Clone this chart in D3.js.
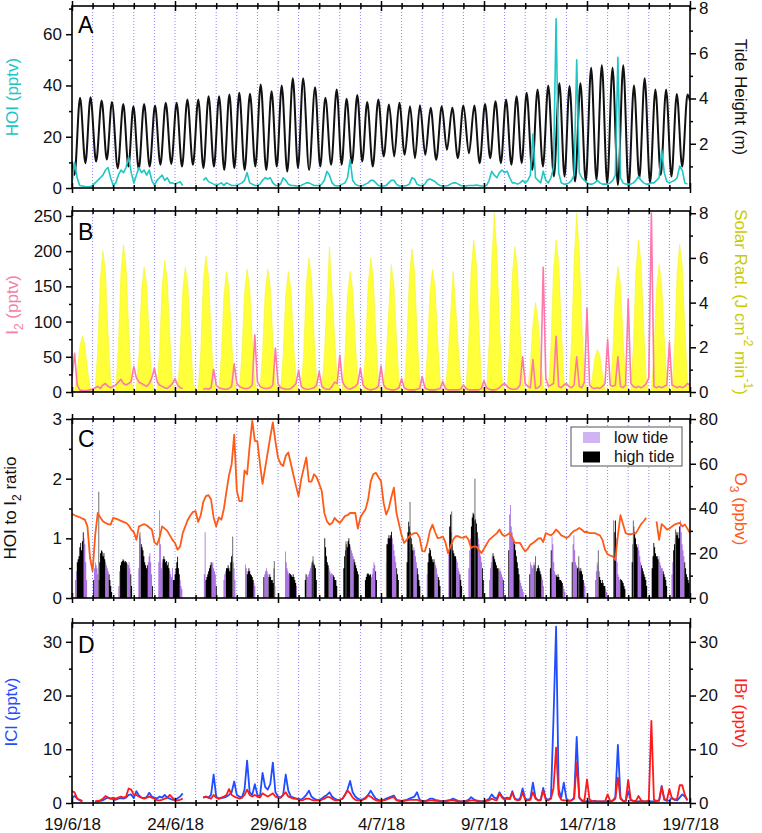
<!DOCTYPE html>
<html><head><meta charset="utf-8">
<script src="https://cdn.jsdelivr.net/npm/d3@7"></script>
<style>body{margin:0;background:#fff}svg{display:block}</style>
</head><body>
<svg id="chart" width="762" height="833"></svg>
<script>
// ---------------- DATA ----------------
const dateTickLabels = ["19/6/18","24/6/18","29/6/18","4/7/18","9/7/18","14/7/18","19/7/18"];
const STEP = 0.125; // days between samples (3 h), day 0 = 19/6/18 00:00

const tideHighTimes = [0.39,0.90,1.44,1.94,2.49,2.98,3.50,4.03,4.55,5.08,5.60,6.13,6.63,7.14,7.64,8.12,8.64,9.16,9.69,10.18,10.72,11.22,11.80,12.30,12.85,13.33,13.85,14.33,14.87,15.39,15.89,16.41,16.89,17.41,17.95,18.46,19.00,19.53,20.05,20.56,21.07,21.58,22.07,22.60,23.12,23.66,24.15,24.68,25.20,25.72,26.24,26.76,27.28,27.80,28.32,28.84,29.36,29.88];
const tideHighs = [4.03,4.06,3.91,3.85,3.76,3.66,3.76,3.69,3.81,3.81,3.96,3.96,4.10,4.10,4.18,4.25,4.21,4.62,4.32,4.58,4.89,4.89,4.50,4.03,4.40,3.99,4.15,3.85,3.96,3.73,3.81,3.66,3.70,3.59,3.66,3.59,3.69,3.69,3.76,3.88,3.96,4.10,4.25,4.40,4.58,4.67,4.55,4.67,5.36,5.47,5.36,5.47,4.58,4.89,4.40,4.40,4.20,4.18];
const tideLowTimes = [0.12,0.65,1.17,1.69,2.22,2.74,3.24,3.77,4.29,4.82,5.34,5.87,6.38,6.89,7.39,7.88,8.38,8.90,9.43,9.94,10.45,10.97,11.51,12.05,12.58,13.09,13.59,14.09,14.60,15.13,15.64,16.15,16.65,17.15,17.68,18.20,18.73,19.27,19.79,20.30,20.82,21.33,21.83,22.34,22.86,23.39,23.91,24.42,24.94,25.46,25.98,26.50,27.02,27.54,28.06,28.58,29.10,29.62];
const tideLows = [0.62,1.14,1.21,1.30,0.92,0.99,0.87,0.99,1.07,1.11,0.99,1.07,0.92,0.99,0.84,0.92,0.84,0.99,0.84,0.99,0.77,0.92,0.84,0.99,1.07,1.07,1.14,1.21,0.99,1.44,1.44,1.51,1.36,1.51,1.29,1.73,1.36,1.58,1.14,1.36,1.14,1.07,1.14,0.84,0.99,0.55,0.55,0.33,0.33,0.40,0.25,0.18,0.10,0.47,0.28,0.62,0.55,0.99];
const tideEdgeTimes = [0, 30];
const tideEdgeHeights = [1.2, 3.9];

const hoi = [
 2,10,4,1,0.8,0.6,0.5,0.5,
 1,2,3,4,5,7,8,4,
 1,2,5,7,6,8,12,6,
 2,5,8,6,7,5,7,3,
 1,3,4,5,3,4,2,2,
 1.5,2,2.5,1,null,null,null,null,
 null,null,null,3,4,2.5,2,1.5,
 1,1.5,2,1,2,1.5,1,1,
 1,1.5,2,3,6,2,1.5,1,
 1,1.5,3,4,3.5,4,2,1,
 1,1.5,4,3,1.5,1,1,0.8,
 0.8,1,1.5,2,2,1.5,1,1,
 1,1.5,3,6.5,5,2,1,0.8,
 1,1.5,2,4,11,3,1.5,1,
 0.8,1,1.5,2,3,3,2,1,
 0.8,0.8,1,2,3,3,1.5,0.8,
 0.8,0.8,1,1.5,4,3.5,1.5,1,
 1,1.5,3,3.5,3,2.5,1.5,1,
 0.8,0.8,1,1.5,2,2,1.5,1,
 0.8,0.8,1,1,1,1.2,1,0.8,
 0.8,1,3,6.5,5,4,6,7,
 6,6.5,4,2,2,1.5,2,3,
 2,3,5,21,4,3,2,6.5,
 3,2,4,8,66,6,2,1.5,
 1.5,2,3,5,50,6,4,3,
 2,1.5,1.5,2,3,2,1.5,1.5,
 1.5,2,3,5,51,4,2,1.5,
 1.5,1.5,2,3,4.5,3,2,1.5,
 1.5,2,2,3,4,15,6,2.5,
 2,2.5,3,4,8.6,7,2,1.5,
 null];

const i2 = [
 20,55,10,3,2,2,2,3,
 4,6,8,5,10,12,8,6,
 8,10,14,18,12,10,12,15,
 36,20,14,12,10,8,12,20,
 34,15,10,8,6,5,8,12,
 19,10,6,5,null,null,null,null,
 null,null,null,4,5,4,6,32,
 10,6,5,4,4,5,8,40,
 12,8,6,5,5,6,10,81,
 15,8,6,5,5,6,10,62,
 12,6,5,4,4,5,8,12,
 31,8,5,4,4,5,6,10,
 29,8,5,4,4,8,14,12,
 52,15,8,5,4,6,8,12,
 34,10,6,4,3,4,5,8,
 37,10,5,4,3,3,4,6,
 19,6,4,3,3,3,4,5,
 22,6,4,3,3,3,4,5,
 15,5,3,3,3,3,3,4,
 10,5,3,3,3,3,3,5,
 16,6,4,3,3,4,6,10,
 12,8,5,4,4,5,10,50,
 12,8,6,46,5,6,10,177,
 20,8,10,12,79,8,6,10,
 12,8,6,10,50,8,6,14,
 119,10,6,5,6,5,8,12,
 75,10,8,10,50,8,6,10,
 132,12,8,6,8,6,8,12,
 20,254,8,6,8,6,8,10,
 71,10,8,6,8,6,8,12,
 10];

const solarRad = [
 0,0.05,0.8,2.0,2.5,2.1,1.0,0.2,
 0,0.1,1.9,5.0,6.3,5.4,2.6,0.5,
 0,0.1,2.0,5.3,6.6,5.6,2.8,0.5,
 0,0.1,1.7,4.5,5.6,4.8,2.4,0.45,
 0,0.1,1.8,4.7,5.9,5.0,2.5,0.45,
 0,0.1,1.7,4.5,5.6,4.8,2.4,0.45,
 0,0.1,1.8,4.9,6.1,5.2,2.6,0.5,
 0,0.1,1.6,4.3,5.4,4.6,2.3,0.45,
 0,0.1,1.7,4.4,5.5,4.7,2.3,0.45,
 0,0.1,1.7,4.4,5.5,4.7,2.3,0.45,
 0,0.1,1.6,4.3,5.4,4.6,2.3,0.45,
 0,0.1,1.8,4.8,6.0,5.1,2.5,0.5,
 0,0.1,1.6,4.0,6.5,4.4,2.4,0.5,
 0,0.1,1.6,4.3,5.4,4.6,2.3,0.45,
 0,0.1,1.8,4.8,6.0,5.1,2.5,0.5,
 0,0.1,1.5,3.6,5.7,4.8,2.4,0.45,
 0,0.1,1.9,5.1,6.4,5.4,2.7,0.5,
 0,0.1,1.7,4.4,5.5,4.7,2.3,0.45,
 0,0.1,1.4,3.4,5.4,3.8,2.0,0.4,
 0,0.1,2.0,5.4,6.8,5.8,2.9,0.55,
 0,0.1,2.2,5.8,8.0,6.2,3.0,0.6,
 0,0.1,2.0,5.2,6.5,5.5,2.7,0.5,
 0,0.1,1.2,3.0,4.0,3.2,1.5,0.3,
 0,0.1,2.0,5.4,6.8,5.8,2.9,0.55,
 0,0.1,2.2,5.8,8.0,6.2,3.0,0.6,
 0,0.05,0.6,1.5,1.9,1.6,0.8,0.15,
 0,0.1,1.7,4.5,5.6,4.8,2.4,0.45,
 0,0.1,2.0,5.4,6.8,5.8,2.9,0.55,
 0,0.1,1.7,4.6,5.7,4.8,2.4,0.45,
 0,0.1,2.0,5.3,6.6,5.6,2.8,0.5,
 0];

const o3 = [
 37.7,37,36.5,36.1,35.5,35,32,18,
 12,28,38,36,34.3,33.5,33,32.8,
 35.8,35.5,35,34.5,34,33.6,32.5,30.6,
 29.5,26,32,32.5,33,32.5,31.5,30.6,
 25,23.8,27,32,31,30,28,26,
 24.6,21.6,23,29,32,35,37,38.5,
 38.8,34,37,43,45.5,46,44,36,
 32,36,35,40,47.8,55,59.8,73,
 48,43.3,43.3,57,55.3,68,79.2,70.2,
 70,60,51,58,65,72,78.5,70,
 62.8,60,59,63.5,65,60,55,50,
 45.5,53,58,62.8,52,52,55.3,54,
 51,47.8,38,34.3,32.8,33.5,35.8,34.5,
 33.6,35,36.6,37,38,38,38,31,
 36,38,39.6,44,52,55.3,56,54,
 52.3,42.6,37.3,40,45,49.3,38,33,
 28,24.6,26,27.6,28.5,29,29,27,
 21,20.8,24.6,30,32.8,29.5,26.8,27,
 27.5,25,20.1,23,26,27.6,27.6,27,
 27,27.6,26,22.3,23,23,21.5,20.1,
 22,24,26,27,28,29,30.6,28.5,
 27.6,28.3,29,27,24.6,24.6,24.6,22.5,
 20.8,22,23.8,24.6,25.5,26.5,26.8,25,
 29,28.5,28,29,30.6,29.5,28,27.5,
 26.8,27.5,29,30,30.5,31.3,30.5,29.5,
 29.5,29,29,29,28.5,28,26,21.6,
 19.5,19,18.6,17,28,37,33,29,
 28.5,28.5,28.8,29,31,33,34.3,35.8,
 null,null,null,34.3,26,33,32,30.6,
 31,32,32.8,33.2,33.6,32,32.8,31,
 29];

const icl = [
 1.0,1.3,0.8,0.5,0.3,null,null,null,
 null,0.2,0.3,0.4,0.5,0.8,1.0,0.8,
 0.7,0.6,0.8,0.9,0.8,1.0,1.5,1.6,
 0.9,2.2,1.4,1.0,0.9,1.1,1.9,1.2,
 1.0,0.8,1.2,1.0,1.5,1.0,0.8,0.6,
 0.6,0.9,1.2,1.8,null,null,null,null,
 null,null,null,1.0,1.2,1.0,1.5,5.3,
 1.2,0.8,0.9,1.0,1.2,1.5,2.0,4.0,
 1.5,1.2,1.0,2.5,7.9,2.0,1.5,3.5,
 1.5,1.2,5.6,3.0,2.5,3.5,7.5,2.0,
 1.2,1.0,1.5,5.3,2.3,1.2,1.0,0.8,
 0.8,0.6,1.0,1.5,2.3,1.2,0.8,0.6,
 0.6,0.8,1.2,1.5,2.0,1.2,0.8,0.6,
 0.6,0.8,1.5,2.5,4.1,2.0,1.2,0.8,
 0.6,0.7,1.0,1.5,2.3,1.5,0.8,0.6,
 0.5,0.6,0.8,1.0,1.2,1.4,0.6,0.5,
 0.4,0.5,0.6,0.8,1.0,1.2,2.0,0.6,
 0.4,0.4,0.5,0.8,0.8,0.6,0.5,0.4,
 0.3,0.4,0.5,0.6,0.8,0.6,0.4,0.3,
 0.3,0.4,0.6,1.1,0.7,0.5,0.4,0.3,
 0.4,0.5,0.8,1.6,1.0,0.8,2.0,1.2,
 0.8,1.0,0.8,2.2,0.8,0.6,0.8,2.7,
 0.8,0.6,0.8,3.8,1.0,0.5,0.6,2.8,
 0.8,0.6,1.0,15.9,32.8,2.5,1.0,3.8,
 0.8,0.4,0.5,1.0,12.3,1.0,0.4,0.3,
 0.3,0.3,0.3,0.4,0.3,0.3,0.3,0.3,
 0.3,0.3,0.5,1.0,10.8,1.0,0.4,0.3,
 2.2,0.5,0.4,0.3,0.3,0.4,0.3,0.3,
 0.3,0.3,0.3,0.4,0.5,3.2,0.6,0.4,
 0.5,1.0,0.6,0.5,1.0,1.6,1.2,0.5,
 null];

const ibr = [
 2.2,2.0,0.8,0.6,0.4,null,null,null,
 null,0.3,0.4,0.5,0.8,1.3,1.0,0.8,
 1.0,0.8,1.0,1.2,1.0,1.2,2.7,2.5,
 1.5,1.5,1.2,1.0,0.8,1.0,1.2,1.0,
 0.8,0.5,0.5,0.6,0.8,1.0,1.5,1.0,
 0.5,0.5,0.6,0.8,null,null,null,null,
 null,null,null,1.0,1.2,1.0,0.8,1.5,
 1.0,0.8,1.0,1.2,1.5,2.6,1.5,1.2,
 1.0,0.8,1.0,1.5,2.5,1.5,1.2,1.5,
 1.2,1.0,1.8,1.5,1.2,1.5,1.8,1.2,
 1.0,1.0,1.5,2.0,1.2,1.0,0.8,0.8,
 0.6,0.5,0.6,0.8,0.8,0.6,0.5,0.5,
 0.5,0.6,0.8,1.1,1.1,0.8,0.5,0.5,
 0.6,0.8,1.5,2.3,1.8,1.0,0.6,0.5,
 0.5,0.6,0.8,1.4,1.2,0.8,0.5,0.4,
 0.4,0.5,0.6,0.8,1.0,1.1,0.5,0.4,
 0.3,0.4,0.5,0.6,0.6,0.6,0.6,0.4,
 0.3,0.3,0.4,0.5,0.5,0.4,0.4,0.3,
 0.3,0.3,0.4,0.5,0.5,0.4,0.3,0.3,
 0.3,0.3,0.4,0.5,0.5,0.4,0.3,0.3,
 0.3,0.4,0.5,0.8,0.6,0.5,1.8,1.0,
 0.6,0.8,0.7,1.9,0.7,0.5,0.6,1.9,
 0.6,0.5,0.6,2.0,0.8,0.5,0.5,2.3,
 0.6,0.5,0.8,2.8,10.3,1.5,0.6,0.5,
 0.5,0.4,0.5,0.8,7.5,1.0,0.5,0.5,
 4.4,0.6,0.4,0.3,0.3,0.3,0.3,0.3,
 1.6,0.4,0.4,0.8,4.7,0.8,0.4,0.3,
 4.3,0.6,0.4,0.4,1.3,0.5,0.3,0.3,
 0.5,15.3,0.6,0.4,0.4,3.0,0.8,0.5,
 2.6,0.8,0.6,0.8,3.3,3.3,1.5,0.5,
 null];

// HOI to I2 ratio: hourly values in daily clusters
const ratioStart = [0.15,1.03,2.25,3.22,4.19,6.40,7.35,8.40,9.29,10.34,11.30,12.25,13.17,14.22,15.24,16.24,17.22,18.27,19.24,20.25,21.18,22.20,23.20,24.26,25.39,26.28,27.17,28.14,29.10];
const ratioValues = [
 [0.3,0.45,0.6,0.65,0.7,0.85,0.92,0.8,0.95,1.1,1.0,0.9,0.6,0.3],
 [0.3,0.5,0.6,0.55,0.5,0.4,0.3,0.6,0.75,0.8,0.78,0.7,0.75,0.65,0.6,0.55,0.5,0.45,0.4,0.3,0.2,0.1],
 [0.2,0.45,0.55,0.6,0.62,0.65,0.63,0.6,0.62,0.6,0.58,0.55,0.6,0.5,0.4,0.2],
 [0.5,1.05,1.0,0.9,0.85,0.8,0.7,0.6,0.55,0.5,0.55,0.6,0.7,0.75,0.6,0.4,0.2],
 [0.6,1.47,0.9,0.5,0.6,0.65,0.7,0.65,0.6,0.62,0.55,0.6,0.5,0.45,0.4,0.35,0.5,0.3,0.3,0.4,0.5,0.6,0.69,0.5,0.4,0.3,0.2,0.15],
 [0.4,1.1,0.3,0.35,0.4,0.45,0.5,0.55,0.6,0.58,0.6,0.5,0.45,0.4,0.2],
 [0.3,0.4,0.45,0.5,0.5,0.55,0.5,0.45,0.6,0.7,0.73,0.6,0.5,0.3],
 [0.56,0.5,0.4,0.45,0.5,0.45,0.4,0.38,0.35,0.3,0.25,0.2],
 [0.35,0.4,0.45,0.5,0.45,0.4,0.35,0.4,0.35,0.3,0.3,0.25,0.5,0.2],
 [0.78,0.6,0.5,0.45,0.4,0.42,0.4,0.38,0.35,0.4,0.35,0.3,0.25,0.2],
 [0.3,0.4,0.38,0.35,0.4,0.45,0.5,0.55,0.6,0.63,0.58,0.55,0.5,0.3],
 [1.0,0.85,0.7,0.6,0.55,0.5,0.45,0.4,0.42,0.4,0.38,0.35,0.3,0.3,0.2],
 [0.5,0.7,0.8,0.9,0.85,0.95,1.0,0.9,0.85,0.8,0.75,0.7,0.65,0.6,0.55,0.5,0.45,0.4],
 [0.3,0.35,0.4,0.42,0.4,0.38,0.4,0.35,0.4,0.5,0.6,0.55,0.45,0.3],
 [0.6,0.9,1.0,1.05,1.0,1.05,1.11,1.0,0.9,0.8,0.7,0.6,0.5,0.4,0.3],
 [0.6,1.1,1.28,1.2,1.1,1.0,0.9,0.8,0.85,0.8,0.7,0.6,0.5,0.4,0.3,0.2],
 [0.4,0.6,0.75,0.84,0.8,0.7,0.65,0.6,0.65,0.6,0.55,0.5,0.4,0.35,0.3,0.2],
 [0.8,1.2,1.4,1.1,0.9,0.8,0.75,0.7,0.7,0.65,0.6,0.5,0.45,0.4,0.3,0.2],
 [0.5,0.8,1.0,1.2,1.35,1.43,1.4,1.3,1.32,1.25,1.1,1.0,0.9,0.8,0.7,0.6,0.5,0.3],
 [0.3,0.5,0.6,0.7,0.75,0.7,0.65,0.6,0.55,0.5,0.5,0.45,0.5,0.45,0.4,0.35,0.3],
 [0.8,1.4,1.56,1.2,1.1,1.0,0.95,0.9,0.8,0.7,0.6,0.5,0.4,0.3,0.25,0.2,0.15,0.1],
 [0.4,0.6,0.55,0.5,0.55,0.6,0.55,0.5,0.45,0.5,0.55,0.5,0.45,0.4,0.35,0.3,0.2],
 [0.5,0.8,1.03,0.9,0.6,0.45,0.4,0.38,0.35,0.4,0.35,0.3,0.3,0.28,0.25,0.2,0.15,0.1],
 [0.6,0.9,1.05,0.8,0.6,0.55,0.5,0.52,0.5,0.45,0.5,0.45,0.4,0.3,0.25,0.2],
 [0.3,0.45,0.6,0.55,0.45,0.35,0.3,0.25,0.3,0.25,0.2,0.2,0.15,0.1],
 [0.7,1.1,1.3,1.0,0.6,0.4,0.35,0.3,0.32,0.3,0.28,0.25,0.2,0.15],
 [0.6,0.9,1.2,1.1,1.0,0.9,0.85,0.9,0.8,0.7,0.6,0.55,0.5,0.45,0.4,0.35,0.3,0.2],
 [0.5,0.7,0.92,0.85,0.75,0.7,0.7,0.65,0.7,0.6,0.55,0.5,0.5,0.45,0.4,0.35,0.3,0.2],
 [0.4,0.6,0.8,0.9,1.0,1.1,1.05,1.1,1.0,1.2,1.3,1.1,0.9,0.8,0.7,0.6,0.5,0.4,0.35,0.3,0.25]];
const ratioSpikeTimes = [1.30,3.30,7.80,9.82,11.70,13.30,15.27,16.41,18.43,19.56,22.50,24.60,25.55,26.30,27.25,29.30];
const ratioSpikeValues = [1.78,1.1,1.03,0.62,0.7,0.95,0.9,1.61,1.45,2.0,0.7,0.7,0.8,1.3,1.3,1.15];
const legendLabels = ["low tide","high tide"];

// ---------------- DRAWING ----------------
const FONT = "'Liberation Sans', Arial, Helvetica, sans-serif";
const svg = d3.select("#chart").attr("font-family", FONT);
const T0 = Date.UTC(2018,5,19), DAY = 864e5;
const toDate = d => new Date(T0 + d*DAY);
const x = d3.scaleUtc().domain([toDate(0), toDate(30)]).range([72, 690]);
const xd = d => x(toDate(d));
const L = 72, R = 690;

const panels = [
  {id:"A", top:6, bottom:188},
  {id:"B", top:211, bottom:392},
  {id:"C", top:419, bottom:598},
  {id:"D", top:623, bottom:803}];

const yHOI = d3.scaleLinear([0,71],[188,6]);
const yTide = d3.scaleLinear([0,8],[189,8]);
const yI2 = d3.scaleLinear([0,257],[392,211]);
const ySol = d3.scaleLinear([0,8.1],[392,211]);
const yRat = d3.scaleLinear([0,3],[598,419]);
const yO3 = d3.scaleLinear([0,80],[598,419]);
const yICl = d3.scaleLinear([0,33.5],[803,623]);
const yIBr = d3.scaleLinear([0,33.5],[803,623]);

const defs = svg.append("defs");
panels.forEach(p => {
  defs.append("clipPath").attr("id","clip"+p.id)
    .append("rect").attr("x",L).attr("y",p.top).attr("width",R-L).attr("height",p.bottom-p.top);
});
const layer = {};
panels.forEach(p => { layer[p.id] = svg.append("g").attr("clip-path",`url(#clip${p.id})`); });

// dotted day lines
const dayList = d3.range(1,30);
panels.forEach(p => {
  layer[p.id].append("g").selectAll("line").data(dayList).join("line")
    .attr("x1", d => xd(d)).attr("x2", d => xd(d))
    .attr("y1", p.top).attr("y2", p.bottom)
    .attr("stroke","#7373ff").attr("stroke-width",1).attr("stroke-dasharray","1,2").attr("opacity",0.85);
});

const pts = arr => arr.map((v,i) => ({t:i*STEP, v}));
function drawLine(g, arr, y, color, w) {
  const line = d3.line().defined(d => d.v != null).x(d => xd(d.t)).y(d => y(d.v));
  g.append("path").datum(pts(arr)).attr("d", line).attr("fill","none")
    .attr("stroke", color).attr("stroke-width", w).attr("stroke-linejoin","round");
}

// Panel A: tide + HOI
const tidePts = [];
tideHighTimes.forEach((t,i) => tidePts.push({t, v:tideHighs[i]}));
tideLowTimes.forEach((t,i) => tidePts.push({t, v:tideLows[i]}));
tideEdgeTimes.forEach((t,i) => tidePts.push({t, v:tideEdgeHeights[i]}));
tidePts.sort((a,b) => a.t - b.t);
layer.A.append("path").datum(tidePts)
  .attr("d", d3.line().x(d => xd(d.t)).y(d => yTide(d.v)).curve(d3.curveMonotoneX))
  .attr("fill","none").attr("stroke","#111").attr("stroke-width",2);
drawLine(layer.A, hoi, yHOI, "#1fc6c6", 1.6);

// Panel B: solar area + I2
layer.B.append("path").datum(pts(solarRad))
  .attr("d", d3.area().x(d => xd(d.t)).y0(ySol(0)).y1(d => ySol(d.v)))
  .attr("fill","#ffff3a").attr("stroke","#f4f42a").attr("stroke-width",0.6);
drawLine(layer.B, i2, yI2, "#ff78aa", 1.6);

// Panel C: ratio as step areas (low tide / high tide) + O3
function isLowTide(t) {
  const dh = d3.min(tideHighTimes, h => Math.abs(h - t));
  const dl = d3.min(tideLowTimes, l => Math.abs(l - t));
  return dl < 0.6 * dh;
}
const stepArea = d3.area().curve(d3.curveStepAfter)
  .x(d => xd(d.t)).y0(yRat(0)).y1(d => yRat(d.v));
ratioStart.forEach((s,ci) => {
  const vals = ratioValues[ci];
  const rows = vals.map((v,k) => ({t: s + k/24, v, low: isLowTide(s + k/24 + 1/48)}));
  const endT = s + vals.length/24;
  [true,false].forEach(isLow => {
    const series = rows.map(r => ({t:r.t, v: r.low === isLow ? r.v : 0}));
    series.push({t:endT, v:series[series.length-1].v});
    layer.C.append("path").datum(series).attr("d", stepArea)
      .attr("fill", isLow ? "#ab74e2" : "#000");
  });
});
layer.C.append("g").selectAll("line").data(ratioSpikeTimes).join("line")
  .attr("x1", d => xd(d)).attr("x2", d => xd(d))
  .attr("y1", yRat(0)).attr("y2", (d,i) => yRat(ratioSpikeValues[i]))
  .attr("stroke","#6d6d6d").attr("stroke-width",1);
drawLine(layer.C, o3, yO3, "#ff5a16", 1.8);

// Panel D: ICl + IBr
drawLine(layer.D, icl, yICl, "#1f4dff", 1.8);
drawLine(layer.D, ibr, yIBr, "#ff1a1a", 1.8);

// ---------- axes ----------
function styleAxis(g) {
  g.select(".domain").remove();
  g.attr("font-family", FONT).attr("font-size", 17);
  g.selectAll("line").attr("stroke","#000").attr("stroke-width",1.5);
  g.selectAll("text").attr("fill","#111");
}
function yAxis(scale, side, majors, minors) {
  const fn = side === "left" ? d3.axisLeft : d3.axisRight;
  const xp = side === "left" ? L : R;
  svg.append("g").attr("transform",`translate(${xp},0)`)
    .call(fn(scale).tickValues(majors).tickSize(6).tickPadding(side==="left"?4:3).tickFormat(d3.format("")))
    .call(styleAxis);
  svg.append("g").attr("transform",`translate(${xp},0)`)
    .call(fn(scale).tickValues(minors).tickSize(3).tickFormat(""))
    .call(styleAxis);
}
yAxis(yHOI, "left", [0,20,40,60], [10,30,50,70]);
yAxis(yTide, "right", [2,4,6,8], [1,3,5,7]);
yAxis(yI2, "left", [0,50,100,150,200,250], [25,75,125,175,225]);
yAxis(ySol, "right", [0,2,4,6,8], [1,3,5,7]);
yAxis(yRat, "left", [0,1,2,3], [0.5,1.5,2.5]);
yAxis(yO3, "right", [0,20,40,60,80], [10,30,50,70]);
yAxis(yICl, "left", [0,10,20,30], [5,15,25]);
yAxis(yIBr, "right", [0,10,20,30], [5,15,25]);

const majorDates = d3.range(0,31,5).map(toDate);
const minorDates = d3.range(0,31).filter(d => d % 5 !== 0).map(toDate);
panels.forEach(p => {
  [p.top, p.bottom].forEach(yy => {
    [d3.axisBottom, d3.axisTop].forEach(fn => {
      svg.append("g").attr("transform",`translate(0,${yy})`)
        .call(fn(x).tickValues(majorDates).tickSize(5).tickFormat("")).call(styleAxis);
      svg.append("g").attr("transform",`translate(0,${yy})`)
        .call(fn(x).tickValues(minorDates).tickSize(3).tickFormat("")).call(styleAxis);
    });
  });
  svg.append("rect").attr("x",L).attr("y",p.top).attr("width",R-L).attr("height",p.bottom-p.top)
    .attr("fill","none").attr("stroke","#000").attr("stroke-width",1.6);
});
svg.append("g").attr("transform","translate(0,803)")
  .call(d3.axisBottom(x).tickValues(majorDates).tickSize(0).tickPadding(15).tickFormat((d,i) => dateTickLabels[i]))
  .call(styleAxis);

// panel letters
[["A",33],["B",240],["C",447],["D",653]].forEach(([t,yy]) =>
  svg.append("text").attr("x",78).attr("y",yy).attr("font-size",23).attr("fill","#000").text(t));

// axis titles
function title(xc, yc, rot, color, parts) {
  const t = svg.append("text").attr("transform",`translate(${xc},${yc}) rotate(${rot})`)
    .attr("text-anchor","middle").attr("dominant-baseline","central")
    .attr("font-size",17).attr("fill",color);
  parts.forEach(p => {
    const s = t.append("tspan").text(p.text);
    if (p.sub) s.attr("font-size",12).attr("baseline-shift","sub");
    if (p.sup) s.attr("font-size",12).attr("baseline-shift","super");
  });
}
title(12, 97, -90, "#22c4c4", [{text:"HOI (pptv)"}]);
title(741, 97, 90, "#111", [{text:"Tide Height (m)"}]);
title(12, 305, -90, "#f57fab", [{text:"I"},{text:"2",sub:true},{text:" (pptv)"}]);
title(741, 302, 90, "#caca00", [{text:"Solar Rad. (J cm"},{text:"-2",sup:true},{text:" min"},{text:"-1",sup:true},{text:")"}]);
title(10, 508, -90, "#111", [{text:"HOI to I"},{text:"2",sub:true},{text:" ratio"}]);
title(741, 509, 90, "#ff5a16", [{text:"O"},{text:"3",sub:true},{text:" (ppbv)"}]);
title(11, 712, -90, "#1f4dff", [{text:"ICl (pptv)"}]);
title(741, 713, 90, "#ff1a1a", [{text:"IBr (pptv)"}]);

// legend
const lg = svg.append("g");
lg.append("rect").attr("x",571).attr("y",427).attr("width",111).attr("height",39)
  .attr("fill","#fff").attr("stroke","#555").attr("stroke-width",1);
const swatchFill = ["#cfb3f2","#000"];
legendLabels.forEach((lab,i) => {
  lg.append("rect").attr("x",583).attr("y",432+i*19.5).attr("width",17).attr("height",11).attr("fill",swatchFill[i]);
  lg.append("text").attr("x",614).attr("y",443+i*18.5).attr("font-size",16).attr("fill","#111").text(lab);
});
</script>
</body></html>
